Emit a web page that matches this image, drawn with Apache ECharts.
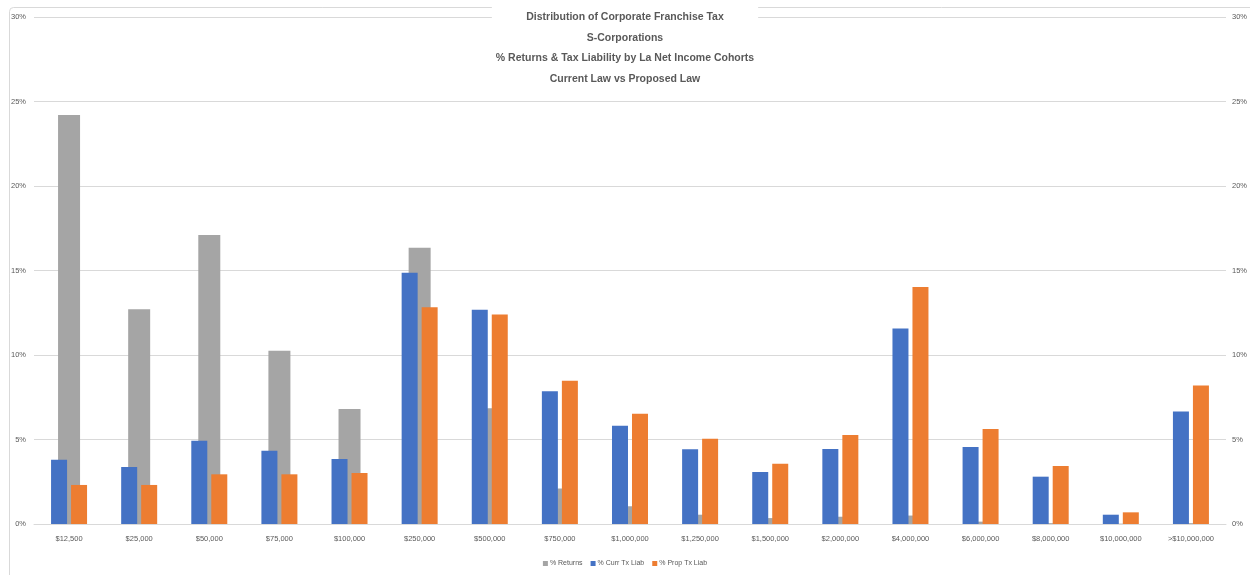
<!DOCTYPE html>
<html>
<head>
<meta charset="utf-8">
<script src="https://cdn.jsdelivr.net/npm/echarts@6/dist/echarts.min.js"></script>
<style>
html,body{margin:0;padding:0;background:#fff;}
#chart{width:1250px;height:575px;}
</style>
</head>
<body>
<div id="chart"></div>
<script>
var categories = ['$12,500','$25,000','$50,000','$75,000','$100,000','$250,000','$500,000','$750,000','$1,000,000','$1,250,000','$1,500,000','$2,000,000','$4,000,000','$6,000,000','$8,000,000','$10,000,000','>$10,000,000'];
var pctReturns = [24.2, 12.7, 17.1, 10.25, 6.8, 16.35, 6.85, 2.1, 1.05, 0.55, 0.35, 0.43, 0.5, 0.14, 0.05, 0.02, 0.05];
var currTxLiab = [3.8, 3.37, 4.93, 4.34, 3.85, 14.87, 12.68, 7.85, 5.82, 4.42, 3.08, 4.44, 11.57, 4.56, 2.8, 0.55, 6.66];
var propTxLiab = [2.31, 2.31, 2.94, 2.94, 3.02, 12.82, 12.4, 8.48, 6.53, 5.05, 3.57, 5.27, 14.02, 5.62, 3.43, 0.69, 8.2];
var yTicks = [0, 5, 10, 15, 20, 25, 30];

var txt = '#595959';
var fam = "'Liberation Sans', Arial, sans-serif";
var chart = echarts.init(document.getElementById('chart'), null, {renderer: 'canvas'});
chart.setOption({
  backgroundColor: '#fff',
  animation: false,
  graphic: [{
    type: 'rect', left: 7, top: 5, z: -10,
    shape: {width: 1270, height: 620, r: 4},
    style: {fill: 'none', stroke: '#D9D9D9', lineWidth: 1}
  }],
  title: {
    text: 'Distribution of Corporate Franchise Tax\nS-Corporations\n% Returns & Tax Liability by La Net Income Cohorts\nCurrent Law vs Proposed Law',
    left: 'center',
    top: 7,
    backgroundColor: '#fff',
    padding: [0, 4, 2, 4],
    textStyle: {
      fontFamily: fam, fontWeight: 'bold', fontSize: 10.5,
      color: txt, lineHeight: 20.5
    }
  },
  legend: {
    bottom: 3, left: 'center',
    itemWidth: 5, itemHeight: 5, itemGap: 8,
    icon: 'rect',
    textStyle: {fontFamily: fam, fontSize: 7, color: txt, padding: [0, 0, 0, -3]},
    data: ['% Returns', '% Curr Tx Liab', '% Prop Tx Liab']
  },
  grid: {left: 34, right: 23, top: 17, bottom: 51, containLabel: false},
  xAxis: [{
    type: 'category', data: categories,
    axisLine: {lineStyle: {color: '#D9D9D9', width: 1}},
    axisTick: {show: false},
    axisLabel: {fontFamily: fam, fontSize: 7.5, color: txt, margin: 11, interval: 0}
  }, {
    type: 'category', data: categories, show: false
  }],
  yAxis: [{
    type: 'value', min: 0, max: 30, interval: 5,
    axisLabel: {formatter: '{value}%', fontFamily: fam, fontSize: 7.5, color: txt, margin: 8},
    splitLine: {lineStyle: {color: '#D9D9D9', width: 1}},
    axisLine: {show: false}, axisTick: {show: false}
  }, {
    type: 'value', min: 0, max: 30, interval: 5, position: 'right',
    axisLabel: {formatter: '{value}%', fontFamily: fam, fontSize: 7.5, color: txt, margin: 6},
    splitLine: {show: false},
    axisLine: {show: false}, axisTick: {show: false}
  }],
  series: [{
    name: '% Returns', type: 'bar', xAxisIndex: 1, yAxisIndex: 1,
    data: pctReturns, barWidth: 22, z: 1,
    itemStyle: {color: '#A5A5A5'}
  }, {
    name: '% Curr Tx Liab', type: 'bar', xAxisIndex: 0, yAxisIndex: 0,
    data: currTxLiab, barWidth: 16, barGap: '25%', z: 3,
    itemStyle: {color: '#4472C4'}
  }, {
    name: '% Prop Tx Liab', type: 'bar', xAxisIndex: 0, yAxisIndex: 0,
    data: propTxLiab, barWidth: 16, barGap: '25%', z: 3,
    itemStyle: {color: '#ED7D31'}
  }]
});
</script>
</body>
</html>
